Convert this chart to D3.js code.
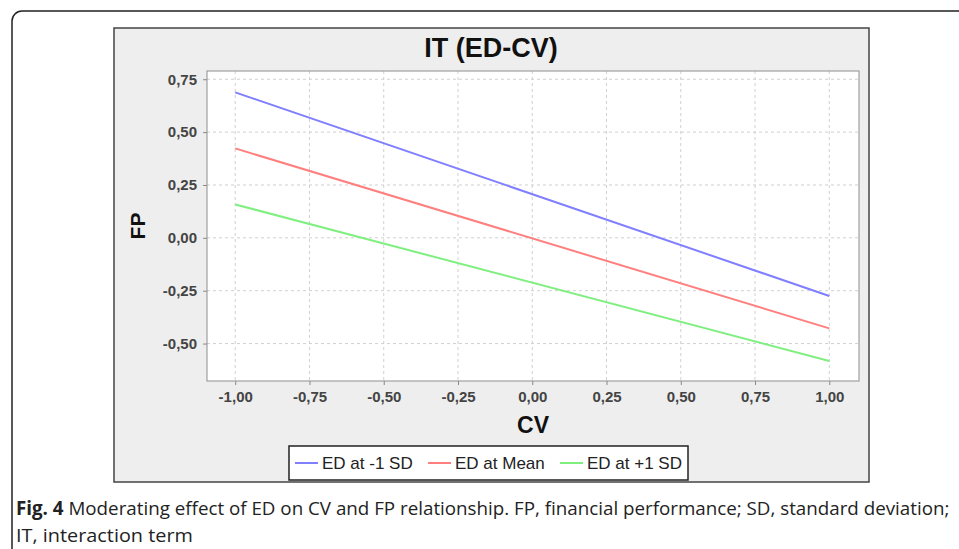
<!DOCTYPE html>
<html>
<head>
<meta charset="utf-8">
<script src="https://cdn.jsdelivr.net/npm/d3@7"></script>
<style>
  body { margin: 0; background: #fff; }
  svg { display: block; }
</style>
</head>
<body>
<svg width="959" height="549"></svg>
<script>
// chart values
const cvValues = [-1, 1];
const seriesNames = ['ED at -1 SD', 'ED at Mean', 'ED at +1 SD'];
const seriesColors = ['#7f7fff', '#ff7f7f', '#7fef7f'];
const lowSD = [0.688, -0.275];
const meanSD = [0.423, -0.428];
const highSD = [0.158, -0.582];
const xTicks = [-1, -0.75, -0.5, -0.25, 0, 0.25, 0.5, 0.75, 1];
const yTicks = [-0.5, -0.25, 0, 0.25, 0.5, 0.75];

const series = [lowSD, meanSD, highSD].map((vals, i) => ({
  name: seriesNames[i],
  color: seriesColors[i],
  points: vals.map((v, j) => ({ x: cvValues[j], y: v }))
}));

const svg = d3.select('svg');
const fmt = d => d3.format('.2f')(d).replace('.', ',').replace('−', '-');

// outer figure frame (runs off the right and bottom)
svg.append('rect')
  .attr('x', 12).attr('y', 11).attr('width', 1000).attr('height', 600)
  .attr('rx', 10).attr('fill', 'none').attr('stroke', '#222').attr('stroke-width', 1.5);

// chart panel
svg.append('rect')
  .attr('x', 114).attr('y', 28).attr('width', 755).attr('height', 454)
  .attr('fill', '#eeeeee').attr('stroke', '#444').attr('stroke-width', 1.5);

// plot area
const plot = { left: 207, top: 71, right: 859, bottom: 381 };
const x = d3.scaleLinear().domain([-1.095, 1.1]).range([plot.left, plot.right]);
const y = d3.scaleLinear().domain([-0.677, 0.789]).range([plot.bottom, plot.top]);

svg.append('rect')
  .attr('x', plot.left).attr('y', plot.top)
  .attr('width', plot.right - plot.left).attr('height', plot.bottom - plot.top)
  .attr('fill', '#fff');

// grid
const grid = svg.append('g').attr('stroke', '#d0d0d0').attr('stroke-dasharray', '3,3').attr('stroke-width', 1);
grid.selectAll('.gx').data(xTicks).join('line')
  .attr('x1', d => x(d)).attr('x2', d => x(d)).attr('y1', plot.top).attr('y2', plot.bottom);
grid.selectAll('.gy').data(yTicks).join('line')
  .attr('x1', plot.left).attr('x2', plot.right).attr('y1', d => y(d)).attr('y2', d => y(d));

// plot border
svg.append('rect')
  .attr('x', plot.left).attr('y', plot.top)
  .attr('width', plot.right - plot.left).attr('height', plot.bottom - plot.top)
  .attr('fill', 'none').attr('stroke', '#a0a0a0').attr('stroke-width', 1.2);

// axes
const xAxis = d3.axisBottom(x).tickValues(xTicks).tickFormat(fmt).tickSize(4).tickPadding(6);
const yAxis = d3.axisLeft(y).tickValues(yTicks).tickFormat(fmt).tickSize(4).tickPadding(6);

const gx = svg.append('g').attr('transform', `translate(0,${plot.bottom})`).call(xAxis);
const gy = svg.append('g').attr('transform', `translate(${plot.left},0)`).call(yAxis);
[gx, gy].forEach(g => {
  g.select('.domain').remove();
  g.selectAll('.tick line').attr('stroke', '#888');
  g.selectAll('.tick text')
    .attr('fill', '#444')
    .style('font-family', 'Liberation Sans')
    .style('font-weight', 'bold')
    .style('font-size', '15px');
});

// lines
const line = d3.line().x(d => x(d.x)).y(d => y(d.y));
svg.append('g').selectAll('path').data(series).join('path')
  .attr('d', d => line(d.points))
  .attr('fill', 'none')
  .attr('stroke', d => d.color)
  .attr('stroke-width', 2);

// title and axis labels
svg.append('text')
  .attr('x', 491).attr('y', 57)
  .attr('text-anchor', 'middle')
  .style('font-family', 'Liberation Sans').style('font-weight', 'bold').style('font-size', '27px')
  .attr('fill', '#111')
  .text('IT (ED-CV)');

svg.append('text')
  .attr('transform', `translate(145,${(plot.top + plot.bottom) / 2}) rotate(-90)`)
  .attr('text-anchor', 'middle')
  .style('font-family', 'Liberation Sans').style('font-weight', 'bold').style('font-size', '21px')
  .attr('fill', '#111')
  .text('FP');

svg.append('text')
  .attr('x', (plot.left + plot.right) / 2).attr('y', 433)
  .attr('text-anchor', 'middle')
  .style('font-family', 'Liberation Sans').style('font-weight', 'bold').style('font-size', '23px')
  .attr('fill', '#111')
  .text('CV');

// legend
const legend = svg.append('g');
legend.append('rect')
  .attr('x', 289).attr('y', 446).attr('width', 399).attr('height', 34)
  .attr('fill', '#fff').attr('stroke', '#222').attr('stroke-width', 1.5);
const legendX = [295, 428, 560];
series.forEach((s, i) => {
  legend.append('line')
    .attr('x1', legendX[i]).attr('x2', legendX[i] + 23)
    .attr('y1', 463).attr('y2', 463)
    .attr('stroke', s.color).attr('stroke-width', 2);
  legend.append('text')
    .attr('x', legendX[i] + 27).attr('y', 469)
    .style('font-family', 'Liberation Sans').style('font-size', '17px')
    .attr('fill', '#222')
    .text(s.name);
});

// caption, squeezed horizontally to the reference widths
const cap = svg.append('g').style('font-family', 'Open Sans').style('font-size', '19px').attr('fill', '#222');
function fitLine(yPos, width, build) {
  const t = cap.append('text').attr('x', 0).attr('y', 0);
  build(t);
  const natural = t.node().getComputedTextLength();
  t.attr('transform', `translate(16,${yPos}) scale(${width / natural},1)`);
}
fitLine(515, 934, t => {
  t.append('tspan').style('font-weight', 'bold').text('Fig. 4');
  t.append('tspan').text(' Moderating effect of ED on CV and FP relationship. FP, financial performance; SD, standard deviation;');
});
fitLine(542, 177, t => t.text('IT, interaction term'));
</script>
</body>
</html>
